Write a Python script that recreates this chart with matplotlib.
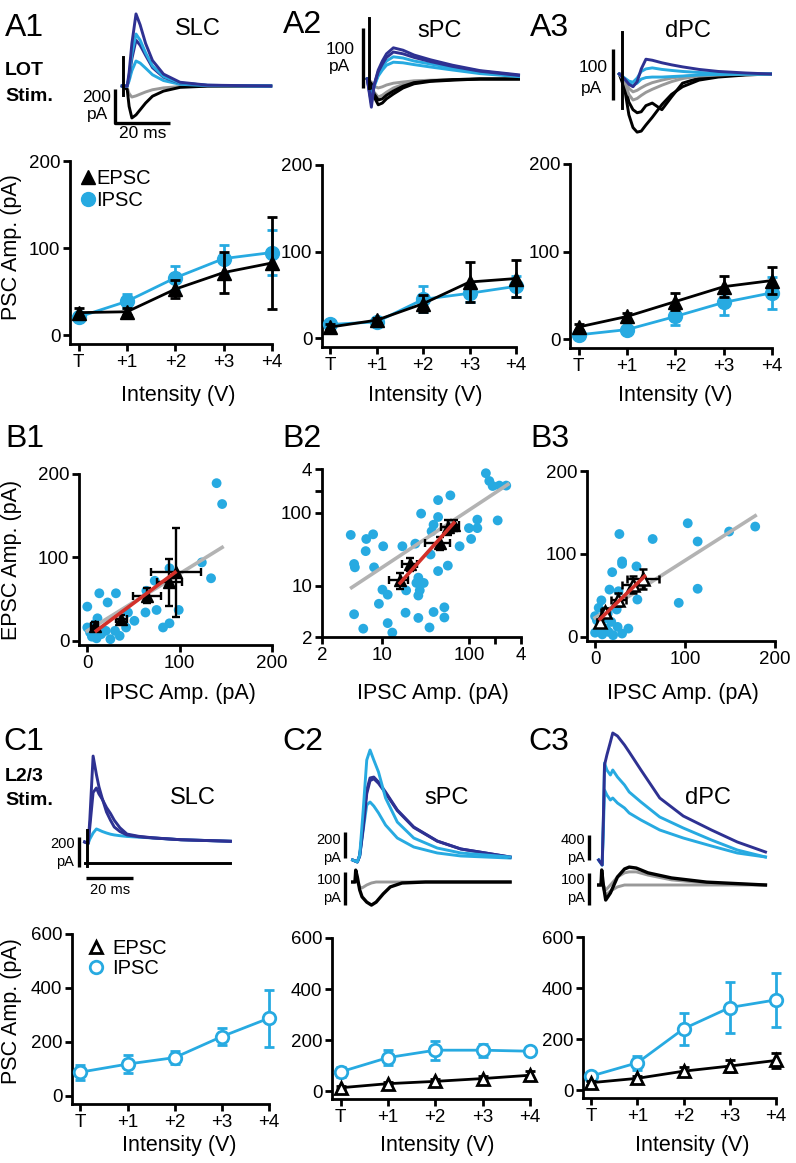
import numpy as np
import matplotlib
matplotlib.use('Agg')
import matplotlib.pyplot as plt
from matplotlib.lines import Line2D

plt.rcParams['font.family'] = ['Liberation Sans', 'DejaVu Sans']

NAVY = '#2e3192'
CYAN = '#27aae1'
GRAY = '#999999'
LGRAY = '#b3b3b3'
RED = '#d3312a'

# ---------------- data ----------------
levels = ['T', '+1', '+2', '+3', '+4']

# A: LOT stimulation, amplitude vs intensity
a1_epsc, a1_epsc_err = [26, 27, 53, 72, 83], [5, 4, 10, 24, 53]
a1_ipsc, a1_ipsc_err = [21, 39, 66, 88, 95], [4, 8, 14, 16, 26]
a2_epsc, a2_epsc_err = [13, 21, 40, 65, 69], [3, 3, 10, 23, 21]
a2_ipsc, a2_ipsc_err = [16, 19, 45, 52, 60], [3, 3, 15, 10, 12]
a3_epsc, a3_epsc_err = [14, 26, 43, 60, 67], [3, 4, 10, 12, 15]
a3_ipsc, a3_ipsc_err = [5, 11, 26, 42, 53], [2, 3, 10, 14, 18]

# C: L2/3 stimulation
c1_ipsc, c1_ipsc_err = [88, 118, 142, 220, 288], [28, 34, 24, 33, 106]
c2_epsc, c2_epsc_err = [14, 30, 39, 50, 63], [5, 6, 8, 10, 15]
c2_ipsc, c2_ipsc_err = [76, 132, 161, 161, 157], [18, 30, 37, 25, 15]
c3_epsc, c3_epsc_err = [30, 47, 75, 95, 117], [8, 10, 15, 25, 30]
c3_ipsc, c3_ipsc_err = [56, 108, 241, 324, 354], [12, 28, 62, 100, 105]

# B: EPSC vs IPSC amplitude, individual cells
b1_ipsc = [140, 146, 124, 134, 99, 89, 82, 75, 63, 73, 64, 89, 13, 31, 22, 0, 11, 44,
           51, 42, 0, 5, 10, 15, 25, 35, 20, 8, 3, 30]
b1_epsc = [189, 164, 94, 75, 37, 21, 16, 37, 34, 72, 60, 87, 57, 57, 46, 41, 27, 34,
           24, 16, 16, 5, 3, 8, 2, 6, 12, 20, 10, 12]
b1_mx, b1_mx_err = [8, 37, 65, 89, 96], [4, 6, 15, 13, 27]
b1_my, b1_my_err = [18, 26, 54, 70, 82], [5, 5, 9, 28, 53]
b1_fit_all = ([0, 146], [12, 112])
b1_fit_mean = ([9.7, 95], [12, 82])

b2_ipsc = [157, 172, 188, 225, 270, 61, 44, 28, 44, 39, 37, 125, 125, 100, 215, 106, 78,
           4.3, 6.5, 7.8, 6.4, 10.2, 17, 24, 4.7, 4.8, 8, 26, 36, 44, 57, 24.7, 30, 27,
           26, 18.8, 10, 11.5, 9.1, 4.7, 11.5, 18.5, 26, 39, 52, 52, 35, 6, 13]
b2_epsc = [350, 274, 234, 237, 237, 174, 150, 98, 88, 69, 56, 81, 62, 62, 79, 44, 35,
           50, 44, 51, 30, 35, 35, 38, 20, 18, 18, 13, 27, 16, 19, 11, 11, 8.7,
           7.4, 8.7, 8.9, 7.6, 5.7, 4.1, 3.1, 4.3, 3.65, 4.4, 5.1, 3.7, 2.7, 2.6, 2.3]
b2_mx, b2_mx_err = [16, 21, 46, 58, 67], [4, 4, 15, 10, 10]
b2_my, b2_my_err = [12, 20, 39, 65, 69], [3, 4, 8, 15, 12]
b2_fit_all = ([4.4, 282], [9.5, 246])
b2_fit_mean = ([16, 67], [11, 73])

b3_ipsc = [103, 114, 149, 178, 64, 27, 30, 30, 46, 19, 16, 26, 7, 47, 93, 114, 4, 11,
           24, 0, 37, 0, 3, 8, 12, 15, 20, 25, 30, 6, 2, 10, 18, 14]
b3_epsc = [137, 115, 127, 133, 118, 124, 91, 88, 85, 78, 57, 55, 44, 45, 41, 58, 35, 31,
           33, 25, 10, 5, 8, 3, 10, 6, 2, 12, 4, 15, 20, 22, 18, 28]
b3_mx, b3_mx_err = [5, 11, 26, 42, 53], [3, 4, 8, 12, 18]
b3_my, b3_my_err = [18, 30, 45, 63, 70], [4, 5, 8, 10, 12]
b3_fit_all = ([0, 178], [23, 146])
b3_fit_mean = ([5.5, 55], [21.5, 73])

# example traces (ms, pA)
a1_t = [-1, 0.8, 1.5, 2.5, 4, 5.5, 7.5, 10, 14, 20, 30, 53]
a1_navy1 = [0, 0, 80, 250, 424, 360, 250, 150, 70, 22, 5, 0]
a1_navy2 = [0, 0, 50, 160, 270, 240, 180, 108, 52, 17, 4, 0]
a1_cyan1 = [0, 0, 60, 190, 306, 270, 195, 118, 56, 18, 4, 0]
a1_cyan2 = [0, 0, 30, 90, 147, 135, 105, 66, 32, 10, 2, 0]
a1_gray = [0, -10, -45, -65, -58, -48, -35, -22, -11, -3, 0, 0]
a1_black = [0, -20, -120, -188, -170, -140, -100, -60, -30, -8, -1, 0]
a1_art = [170, -53]

a2_t = [-1, 0.5, 1.5, 3, 4.5, 6, 8.5, 12, 16, 22, 30, 40, 54]
a2_navy1 = [0, -47, -10, 15, 30, 42, 52, 48, 40, 32, 23, 14, 7]
a2_navy2 = [0, -40, -10, 12, 25, 36, 45, 42, 36, 29, 21, 13, 6]
a2_cyan1 = [0, -35, -12, 8, 20, 30, 37, 35, 30, 25, 18, 11, 5]
a2_cyan2 = [0, -30, -12, 5, 15, 23, 28, 27, 24, 20, 15, 9, 4]
a2_gray1 = [0, -5, -12, -15, -13, -10, -7, -5, -3, -2, -1, 0, 0]
a2_gray2 = [0, -8, -22, -30, -27, -22, -15, -9, -5, -3, -1, 0, 0]
a2_black1 = [0, -10, -30, -43, -40, -33, -25, -15, -8, -4, -2, 0, 0]
a2_black2 = [0, -8, -25, -35, -33, -27, -20, -12, -6, -3, -1, 0, 0]
a2_art = [102, -15]

a3_t = [-1, 1, 2.5, 4, 5.5, 7, 8.7, 11, 14.5, 18, 22, 28, 35, 45, 54]
a3_navy = [0, -10, -20, -25, -15, 10, 29, 27, 22, 18, 14, 9, 5, 2, 0]
a3_cyan1 = [0, -8, -14, -16, -8, 5, 10, 12, 9, 7, 5, 3, 1, 0, 0]
a3_cyan2 = [0, -10, -18, -22, -18, -10, -7, -6, -6, -5, -4, -2, -1, 0, 0]
a3_gray1 = [0, -12, -28, -35, -32, -27, -22, -17, -12, -8, -5, -2, -1, 0, 0]
a3_gray2 = [0, -15, -40, -51, -48, -42, -36, -30, -22, -15, -9, -4, -2, 0, 0]
a3_black1 = [0, -30, -80, -105, -114, -112, -100, -85, -60, -40, -25, -12, -6, -2, 0]
a3_black2 = [0, -20, -55, -70, -76, -74, -62, -57, -70, -45, -18, -8, -4, -1, 0]
a3_art = [82, -67]

c1_t = [-1, 0.5, 1.2, 2.6, 4, 5.1, 6.5, 8.3, 10, 11.6, 14, 17, 22, 28, 40, 61]
c1_navy1 = [0, -10, 150, 573, 450, 367, 290, 200, 145, 100, 70, 47, 35, 27, 15, 5]
c1_navy2 = [0, -10, 100, 330, 360, 320, 285, 230, 190, 145, 95, 53, 38, 28, 15, 5]
c1_cyan = [0, -10, 20, 60, 87, 80, 70, 60, 52, 47, 42, 37, 32, 27, 15, 5]
c1_black = [0, 0, 0, 0, 0, 0, 0, 0, 0, 0, 0, 0, 0, 0, 0, 0]
c1_art = [220, -20]

c2_t = [-1, 1, 2, 3.5, 5, 6.4, 8, 10, 13, 18, 25, 35, 45, 66]
c2_cyan1 = [0, -15, 38, 385, 769, 846, 769, 677, 477, 292, 169, 92, 54, 23]
c2_navy1 = [0, -15, 38, 269, 538, 631, 638, 600, 523, 385, 254, 146, 85, 23]
c2_navy2 = [0, -15, 30, 250, 510, 610, 625, 590, 515, 380, 250, 145, 85, 23]
c2_cyan2 = [0, -15, 31, 231, 423, 446, 415, 362, 269, 169, 100, 54, 31, 15]
c2k_t = [-1, 0, 0.3, 1, 2, 3, 5, 7, 9, 12, 15, 20, 30, 66]
c2_black = [0, 0, 36, 15, -24, -45, -61, -70, -61, -36, -15, -3, 0, 0]
c2_gray = [0, 0, 24, 0, -15, -18, -9, -3, 0, 0, 0, 0, 0, 0]

c3_t = [-1, 0.5, 1, 1.5, 2.5, 4, 5, 7, 10, 12, 17, 25, 35, 47, 58, 70]
c3_navy = [0, -80, 640, 1520, 1680, 1888, 2032, 1984, 1840, 1728, 1440, 992, 704, 480, 288, 128]
c3_cyan1 = [0, -80, 640, 1552, 1440, 1360, 1440, 1328, 1200, 1088, 928, 688, 512, 320, 160, 48]
c3_cyan2 = [0, -80, 480, 1120, 1040, 960, 992, 912, 832, 752, 640, 480, 352, 224, 112, 48]
c3k_t = [-1, 0, 0.3, 1, 2, 4, 7, 10, 12, 15, 20, 30, 45, 70]
c3_black = [0, 0, 47, 0, -47, -25, 25, 50, 56, 53, 38, 22, 9, 0]
c3_gray1 = [0, 0, 25, 0, -16, 0, 25, 38, 41, 41, 31, 16, 6, 0]
c3_gray2 = [0, 0, 16, -9, -31, -19, -6, 0, 0, 0, 0, 0, 0, 0]

# ---------------- figure ----------------
W, H = 796, 1163
fig = plt.figure(figsize=(W / 100, H / 100), dpi=100)
TLW = 2.1


def add_ax(x0, y0, x1, y1):
    return fig.add_axes([x0 / W, 1 - y1 / H, (x1 - x0) / W, (y1 - y0) / H])


def ftext(x, y, s, **kw):
    fig.text(x / W, 1 - y / H, s, **kw)


def px_line(xs, ys, lw=2.4):
    fig.add_artist(Line2D([x / W for x in xs], [1 - y / H for y in ys], color='k',
                          lw=lw, solid_capstyle='butt', transform=fig.transFigure))


def style(ax):
    for s in ['top', 'right']:
        ax.spines[s].set_visible(False)
    for s in ['left', 'bottom']:
        ax.spines[s].set_linewidth(2)
    ax.tick_params(direction='out', length=5, width=2, labelsize=13.5, pad=2)


def unclip(container):
    for art in container.get_children():
        art.set_clip_on(False)


def intensity_panel(rect, ymax, ticks, epsc, epsc_err, ipsc, ipsc_err, hollow=False):
    ax = add_ax(*rect)
    style(ax)
    x = np.arange(len(levels))
    ax.set_xlim(-0.18, 4)
    ax.set_ylim(-ymax * 0.05, ymax)
    ax.set_xticks(x)
    ax.set_xticklabels(levels)
    ax.set_yticks(ticks)
    mkw = dict(mfc='white', mew=2) if hollow else {}
    unclip(ax.errorbar(x, ipsc, yerr=ipsc_err, color=CYAN, marker='o',
                       ms=9 if hollow else 10, lw=2, elinewidth=2, capsize=3.5,
                       capthick=2, zorder=3, **mkw))
    if epsc is not None:
        unclip(ax.errorbar(x, epsc, yerr=epsc_err, color='k', marker='^',
                           ms=9 if hollow else 10, lw=2, elinewidth=2, capsize=3.5,
                           capthick=2, zorder=4, **mkw))
    return ax


def trace_ax(x0, y0, x1, y1, stim, base, px_ms, px_pa):
    ax = add_ax(x0, y0, x1, y1)
    ax.set_xlim((x0 - stim) / px_ms, (x1 - stim) / px_ms)
    ax.set_ylim((base - y1) / px_pa, (base - y0) / px_pa)
    ax.axis('off')
    return ax


def scatter_panel(rect, ipsc, epsc, mx, mx_err, my, my_err, fit_all, fit_mean,
                  log=False, hollow=False):
    ax = add_ax(*rect)
    style(ax)
    if log:
        ax.set_xscale('log')
        ax.set_yscale('log')
        ax.set_xlim(2, 400)
        ax.set_ylim(2, 400)
        ax.set_xticks([2, 10, 100, 200, 400])
        ax.set_xticklabels(['2', '10', '100', '', '4'])
        ax.set_yticks([2, 10, 100, 200, 400])
        ax.set_yticklabels(['2', '10', '100', '', '4'])
        ax.minorticks_off()
    else:
        ax.set_xlim(-9, 200)
        ax.set_ylim(-5, 200)
        ax.set_xticks([0, 100, 200])
        ax.set_yticks([0, 100, 200])
    ax.scatter(ipsc, epsc, s=50, color=CYAN, edgecolor='none', zorder=2, clip_on=False)
    ax.plot(*fit_all, color=LGRAY, lw=2.6, zorder=3)
    ax.plot(*fit_mean, color=RED, lw=2.6, zorder=5)
    mkw = dict(mfc='white', mew=1.8) if hollow else {}
    unclip(ax.errorbar(mx, my, xerr=mx_err, yerr=my_err, fmt='^', color='k', ms=8,
                       elinewidth=1.7, capsize=3, capthick=1.7, zorder=4, **mkw))
    return ax


# ---- A row: traces ----
ax = trace_ax(100, 5, 275, 125, 125, 86, 2.75, 0.17)
for v, c in [(a1_gray, GRAY), (a1_black, 'k'), (a1_cyan2, CYAN), (a1_navy2, NAVY),
             (a1_cyan1, CYAN), (a1_navy1, NAVY)]:
    ax.plot(a1_t, v, color=c, lw=TLW)
ax.plot([-0.7, -0.7], a1_art, color='k', lw=TLW)
px_line([115, 115, 170], [89, 123, 123])
ftext(111, 97, '200', ha='right', va='center', fontsize=12.5)
ftext(108, 115, 'pA', ha='right', va='center', fontsize=12.5)
ftext(143, 133, '20 ms', ha='center', va='center', fontsize=12.5)

ax = trace_ax(355, 5, 525, 115, 370, 79, 2.75, 0.6)
for v, c in [(a2_gray1, GRAY), (a2_gray2, GRAY), (a2_black2, 'k'), (a2_black1, 'k'),
             (a2_cyan2, CYAN), (a2_cyan1, CYAN), (a2_navy2, NAVY), (a2_navy1, NAVY)]:
    ax.plot(a2_t, v, color=c, lw=TLW)
ax.plot([-0.3, -0.3], a2_art, color='k', lw=TLW)
px_line([363, 363], [28, 88])
ftext(355, 50, '100', ha='right', va='center', fontsize=12.5)
ftext(350, 67, 'pA', ha='right', va='center', fontsize=12.5)

ax = trace_ax(605, 25, 775, 140, 622, 74, 2.75, 0.51)
for v, c in [(a3_black1, 'k'), (a3_black2, 'k'), (a3_gray2, GRAY), (a3_gray1, GRAY),
             (a3_cyan2, CYAN), (a3_cyan1, CYAN), (a3_navy, NAVY)]:
    ax.plot(a3_t, v, color=c, lw=TLW)
ax.plot([0, 0], a3_art, color='k', lw=TLW)
px_line([613, 613], [49, 100])
ftext(608, 67, '100', ha='right', va='center', fontsize=12.5)
ftext(602, 88, 'pA', ha='right', va='center', fontsize=12.5)

# ---- A row: amplitude vs intensity ----
ax = intensity_panel((70, 161, 272, 344), 200, [0, 100, 200], a1_epsc, a1_epsc_err,
                     a1_ipsc, a1_ipsc_err)
hl = [Line2D([], [], color='k', marker='^', ls='none', ms=10),
      Line2D([], [], color=CYAN, marker='o', ls='none', ms=10)]
ax.legend(hl, ['EPSC', 'IPSC'], loc='upper left', bbox_to_anchor=(0.0, 1.02), frameon=False,
          fontsize=14.5, handlelength=0.6, handletextpad=0.1, labelspacing=0.15,
          borderaxespad=0.2)
intensity_panel((322, 165, 516, 347), 200, [0, 100, 200], a2_epsc, a2_epsc_err,
                a2_ipsc, a2_ipsc_err)
intensity_panel((570, 164, 772, 348), 200, [0, 100, 200], a3_epsc, a3_epsc_err,
                a3_ipsc, a3_ipsc_err)

# ---- B row ----
scatter_panel((79, 474, 272, 645), b1_ipsc, b1_epsc, b1_mx, b1_mx_err, b1_my, b1_my_err,
              b1_fit_all, b1_fit_mean)
scatter_panel((322, 469, 521, 637), b2_ipsc, b2_epsc, b2_mx, b2_mx_err, b2_my, b2_my_err,
              b2_fit_all, b2_fit_mean, log=True)
scatter_panel((587, 471, 775, 641), b3_ipsc, b3_epsc, b3_mx, b3_mx_err, b3_my, b3_my_err,
              b3_fit_all, b3_fit_mean, hollow=True)

# ---- C row: traces ----
ax = trace_ax(80, 730, 240, 850, 87, 842, 2.35, 0.15)
for v, c in [(c1_cyan, CYAN), (c1_navy2, NAVY), (c1_navy1, NAVY)]:
    ax.plot(c1_t, v, color=c, lw=TLW)
ax = trace_ax(80, 820, 240, 880, 87, 863, 2.35, 0.15)
ax.plot(c1_t, c1_black, color='k', lw=TLW)
ax.plot([0, 0], c1_art, color='k', lw=TLW)
px_line([79, 79], [837, 867])
px_line([86, 133], [878, 878])
ftext(75, 844, '200', ha='right', va='center', fontsize=10.5)
ftext(74, 862, 'pA', ha='right', va='center', fontsize=10.5)
ftext(110, 890, '20 ms', ha='center', va='center', fontsize=10.5)

ax = trace_ax(345, 730, 515, 870, 355, 860, 2.35, 0.13)
for v, c in [(c2_cyan2, CYAN), (c2_navy2, NAVY), (c2_navy1, NAVY), (c2_cyan1, CYAN)]:
    ax.plot(c2_t, v, color=c, lw=TLW)
ax = trace_ax(345, 860, 515, 915, 355, 882, 2.35, 0.33)
ax.plot(c2k_t, c2_gray, color=GRAY, lw=TLW)
ax.plot(c2k_t, c2_black, color='k', lw=TLW + 0.3)
px_line([345, 345], [832, 858])
px_line([345, 345], [872, 905])
ftext(341, 840, '200', ha='right', va='center', fontsize=10.5)
ftext(341, 858, 'pA', ha='right', va='center', fontsize=10.5)
ftext(341, 880, '100', ha='right', va='center', fontsize=10.5)
ftext(341, 898, 'pA', ha='right', va='center', fontsize=10.5)

ax = trace_ax(590, 720, 775, 870, 601, 860, 2.35, 0.0625)
for v, c in [(c3_cyan2, CYAN), (c3_cyan1, CYAN), (c3_navy, NAVY)]:
    ax.plot(c3_t, v, color=c, lw=TLW)
ax = trace_ax(590, 860, 775, 915, 601, 885, 2.35, 0.32)
ax.plot(c3k_t, c3_gray2, color=GRAY, lw=TLW)
ax.plot(c3k_t, c3_gray1, color=GRAY, lw=TLW)
ax.plot(c3k_t, c3_black, color='k', lw=TLW + 0.3)
px_line([589, 589], [835, 860])
px_line([589, 589], [873, 905])
ftext(585, 840, '400', ha='right', va='center', fontsize=10.5)
ftext(585, 858, 'pA', ha='right', va='center', fontsize=10.5)
ftext(585, 880, '100', ha='right', va='center', fontsize=10.5)
ftext(585, 898, 'pA', ha='right', va='center', fontsize=10.5)

# ---- C row: amplitude vs intensity ----
ax = intensity_panel((72, 934, 269, 1104), 600, [0, 200, 400, 600], None, None,
                     c1_ipsc, c1_ipsc_err, hollow=True)
hl = [Line2D([], [], color='k', marker='^', ls='none', ms=9, mfc='white', mew=2),
      Line2D([], [], color=CYAN, marker='o', ls='none', ms=9, mfc='white', mew=2)]
ax.legend(hl, ['EPSC', 'IPSC'], loc='upper left', bbox_to_anchor=(0.02, 1.04), frameon=False,
          fontsize=14.5, handlelength=0.8, handletextpad=0.4, labelspacing=0.05,
          borderaxespad=0.2)
intensity_panel((332, 938, 530, 1099), 600, [0, 200, 400, 600], c2_epsc, c2_epsc_err,
                c2_ipsc, c2_ipsc_err, hollow=True)
intensity_panel((583, 937, 776, 1098), 600, [0, 200, 400, 600], c3_epsc, c3_epsc_err,
                c3_ipsc, c3_ipsc_err, hollow=True)

# ---- labels ----
for x, y, s in [(5, 13, 'A1'), (283, 10, 'A2'), (530, 13, 'A3'),
                (5, 424, 'B1'), (282, 424, 'B2'), (530, 424, 'B3'),
                (3, 727, 'C1'), (282, 727, 'C2'), (528, 727, 'C3')]:
    ftext(x, y, s, ha='left', va='top', fontsize=23)
for x, y, s in [(175, 18, 'SLC'), (417, 20, 'sPC'), (665, 20, 'dPC'),
                (170, 787, 'SLC'), (424, 787, 'sPC'), (685, 787, 'dPC')]:
    ftext(x, y, s, ha='left', va='top', fontsize=17)
ftext(5, 62, 'LOT', ha='left', va='top', fontsize=14, fontweight='bold')
ftext(5, 88, 'Stim.', ha='left', va='top', fontsize=14, fontweight='bold')
ftext(5, 768, 'L2/3', ha='left', va='top', fontsize=14, fontweight='bold')
ftext(5, 792, 'Stim.', ha='left', va='top', fontsize=14, fontweight='bold')

ftext(12, 247, 'PSC Amp. (pA)', rotation=90, ha='center', va='center', fontsize=15.5)
ftext(12, 560, 'EPSC Amp. (pA)', rotation=90, ha='center', va='center', fontsize=15.5)
ftext(12, 1011, 'PSC Amp. (pA)', rotation=90, ha='center', va='center', fontsize=15.5)
for x in [178, 425, 675]:
    ftext(x, 396, 'Intensity (V)', ha='center', va='center', fontsize=15.5)
for x in [180, 433, 683]:
    ftext(x, 693, 'IPSC Amp. (pA)', ha='center', va='center', fontsize=15.5)
for x in [179, 437, 692]:
    ftext(x, 1146, 'Intensity (V)', ha='center', va='center', fontsize=15.5)

fig.savefig('out.png', dpi=100)
